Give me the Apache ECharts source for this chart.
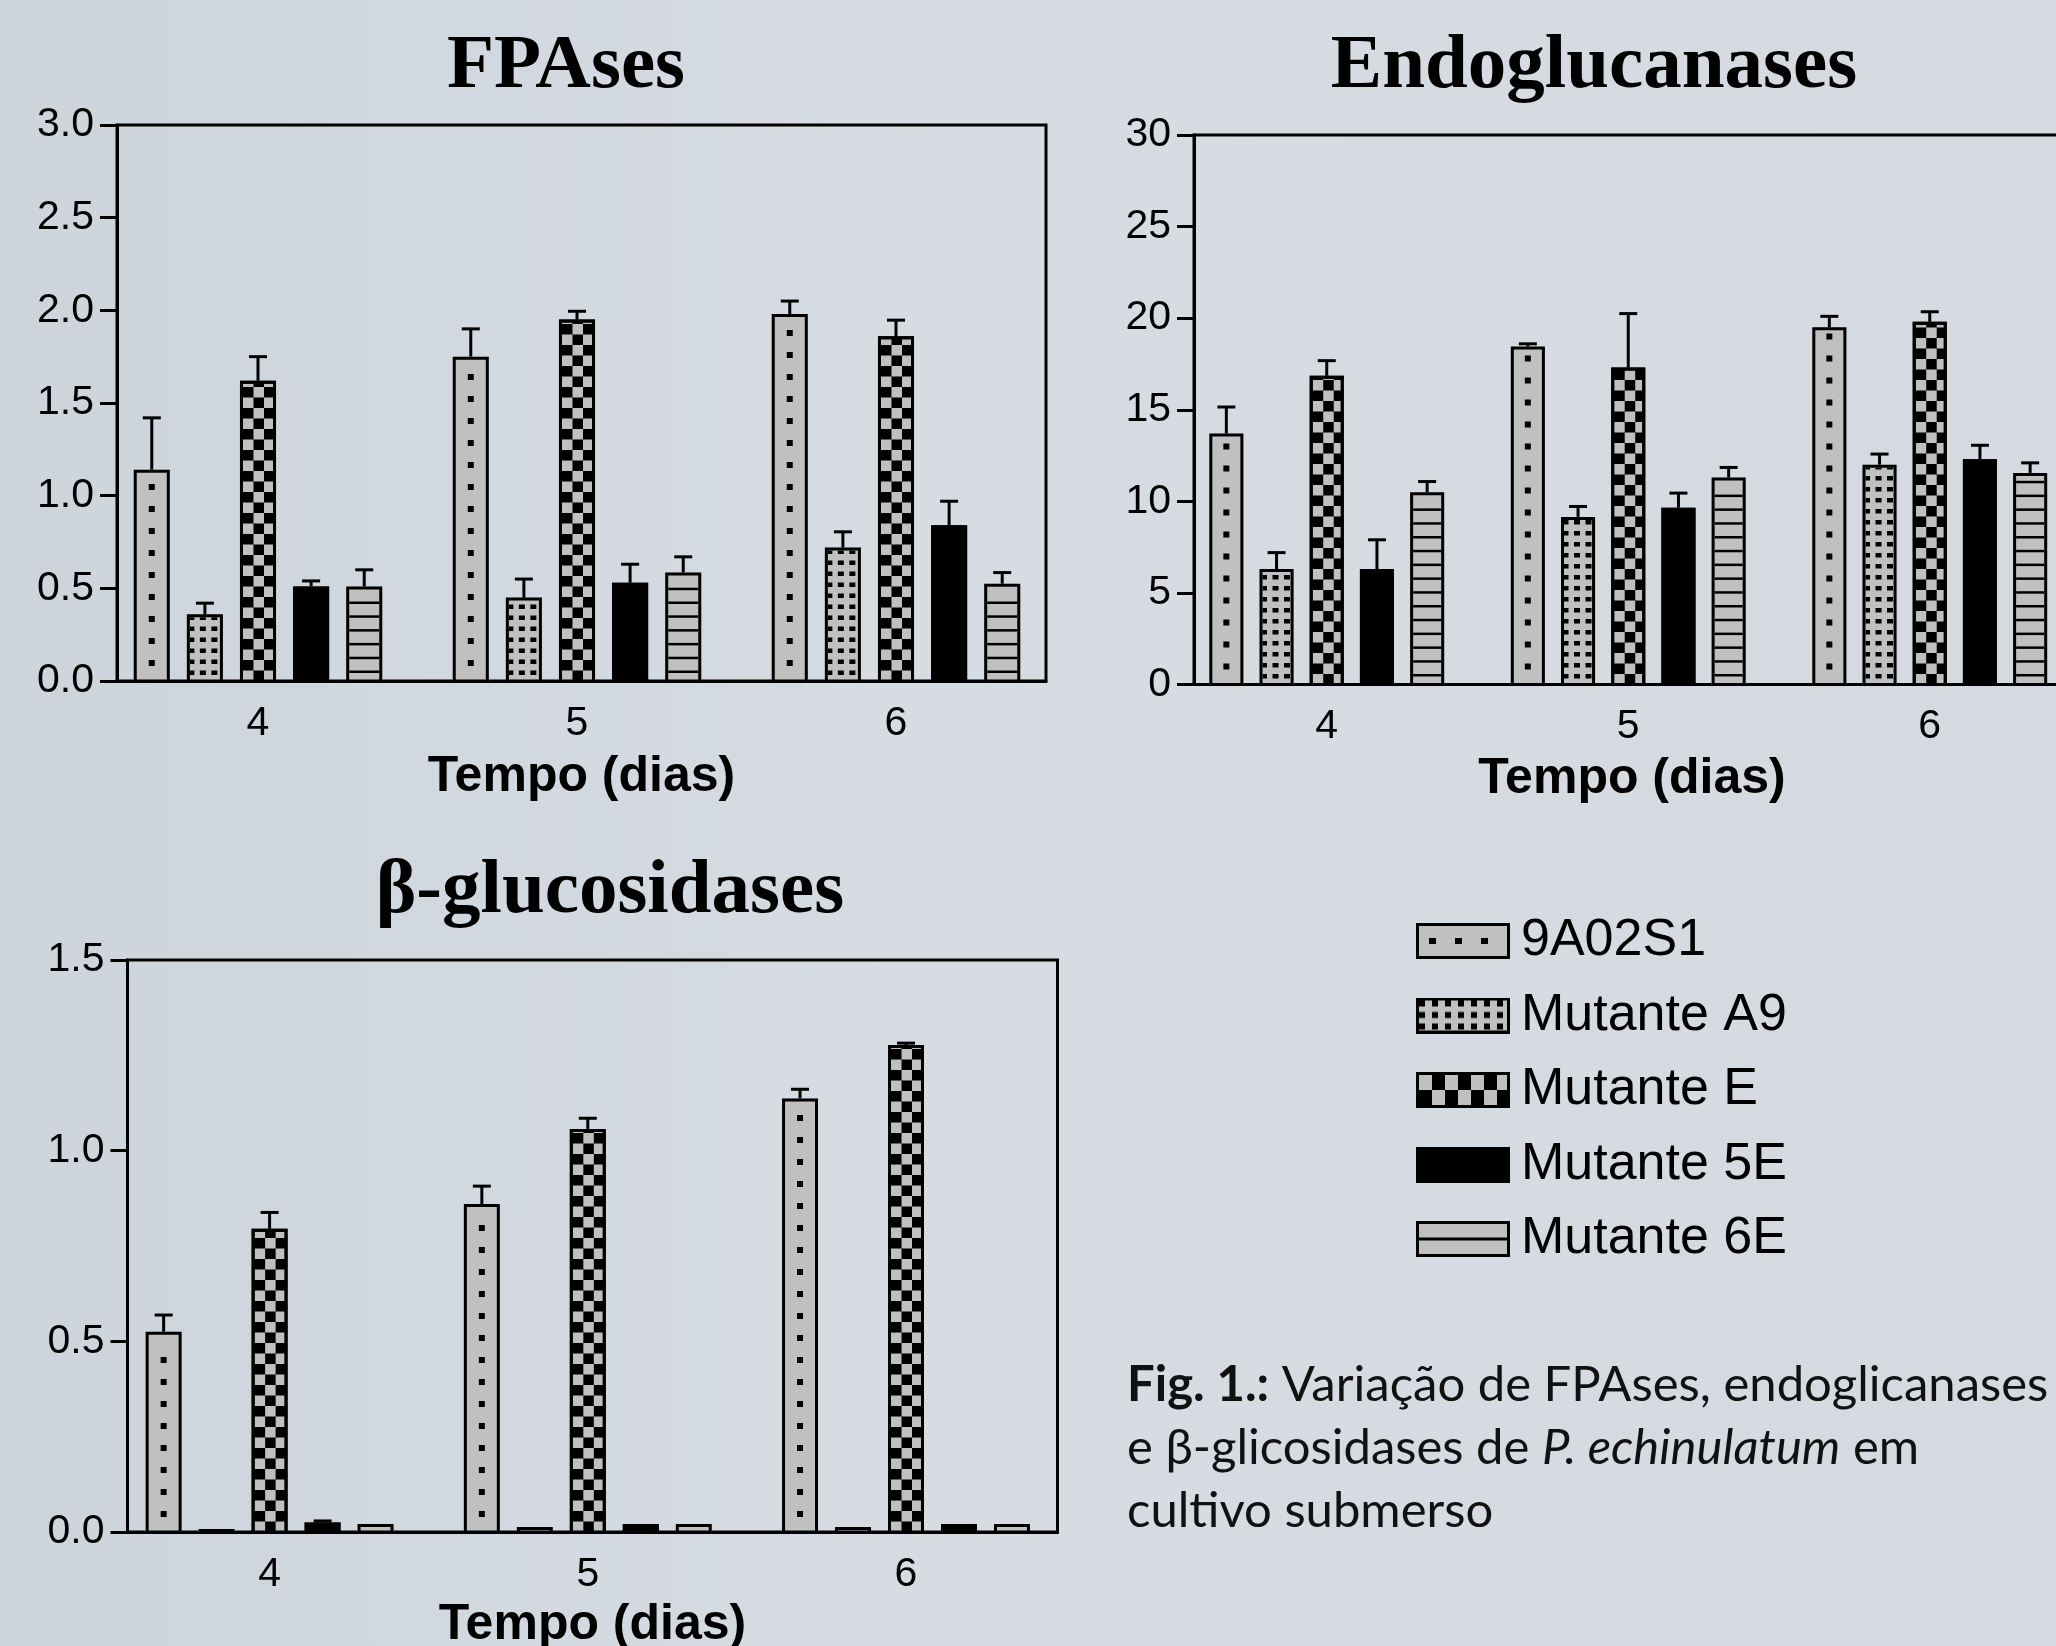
<!DOCTYPE html>
<html>
<head>
<meta charset="utf-8">
<script src="https://cdn.jsdelivr.net/npm/echarts@6/dist/echarts.min.js"></script>
<style>
html,body{margin:0;padding:0;background:#d3d9e0;}
#c{width:2056px;height:1646px;}
</style>
</head>
<body>
<div id="c"></div>
<script>
// ---------------- data ----------------
const days = ['4', '5', '6'];
const strains = ['9A02S1', 'Mutante A9', 'Mutante E', 'Mutante 5E', 'Mutante 6E'];

// [strain][day]
const fpaMean = [
  [1.14, 1.75, 1.98],
  [0.36, 0.45, 0.72],
  [1.62, 1.95, 1.86],
  [0.51, 0.53, 0.84],
  [0.51, 0.585, 0.525]
];
const fpaSD = [
  [0.28, 0.15, 0.07],
  [0.06, 0.10, 0.085],
  [0.13, 0.045, 0.087],
  [0.03, 0.10, 0.13],
  [0.09, 0.085, 0.06]
];
const endoMean = [
  [13.7, 18.45, 19.5],
  [6.3, 9.15, 12.0],
  [16.85, 17.3, 19.8],
  [6.3, 9.65, 12.3],
  [10.5, 11.3, 11.55]
];
const endoSD = [
  [1.45, 0.15, 0.6],
  [0.9, 0.57, 0.58],
  [0.83, 2.95, 0.55],
  [1.6, 0.8, 0.76],
  [0.58, 0.55, 0.55]
];
const betaMean = [
  [0.525, 0.86, 1.137],
  [0.008, 0.013, 0.013],
  [0.795, 1.057, 1.277],
  [0.025, 0.021, 0.021],
  [0.021, 0.021, 0.021]
];
const betaSD = [
  [0.044, 0.047, 0.024],
  [0, 0, 0],
  [0.043, 0.028, 0.005],
  [0.004, 0, 0],
  [0, 0, 0]
];
const fpaTicks = ['0.0', '0.5', '1.0', '1.5', '2.0', '2.5', '3.0'];
const endoTicks = ['0', '5', '10', '15', '20', '25', '30'];
const betaTicks = ['0.0', '0.5', '1.0', '1.5'];
const xName = 'Tempo (dias)';
const captionText = '{b|Fig. 1.:} Variação de FPAses, endoglicanases\ne β-glicosidases de {i|P. echinulatum} em\ncultivo submerso';

// ---------------- layout ----------------
const panels = [
  { title: 'FPAses', tx: 566, ty: 67,
    frame: { left: 117, top: 125, width: 929, height: 556 },
    bars: { left: 98.5, width: 957 },
    max: 3, interval: 0.5, ticks: fpaTicks, mean: fpaMean, sd: fpaSD, nameGap: 71 },
  { title: 'Endoglucanases', tx: 1594, ty: 67,
    frame: { left: 1194, top: 135, width: 876, height: 549.5 },
    bars: { left: 1176, width: 904.5 },
    max: 30, interval: 5, ticks: endoTicks, mean: endoMean, sd: endoSD, nameGap: 70 },
  { title: 'β-glucosidases', tx: 610, ty: 892,
    frame: { left: 127.5, top: 960, width: 930, height: 572 },
    bars: { left: 110.5, width: 954.6 },
    max: 1.5, interval: 0.5, ticks: betaTicks, mean: betaMean, sd: betaSD, nameGap: 68 }
];

const GRAY = '#c0c0c0';
const BLACK = '#000';
const STEP_RATIO = 0.1665;
const WIDTH_RATIO = 0.113;
const SANS = '"Liberation Sans", Arial, sans-serif';

function clipRect(arr, x, y, w, h, fill, bx0, by0, bx1, by1) {
  const xa = Math.max(x, bx0), ya = Math.max(y, by0);
  const xb = Math.min(x + w, bx1), yb = Math.min(y + h, by1);
  if (xb > xa && yb > ya) {
    arr.push({ type: 'rect', shape: { x: xa, y: ya, width: xb - xa, height: yb - ya }, style: { fill: fill } });
  }
}

function makeRender(s) {
  return function (params, api) {
    const cat = api.value(0), val = api.value(1), sd = api.value(2);
    const top = api.coord([cat, val]);
    const base = api.coord([cat, 0]);
    const band = api.size([1, 0])[0];
    const step = band * STEP_RATIO;
    const w = band * WIDTH_RATIO;
    const cx = top[0] + (s - 2) * step;
    const x0 = cx - w / 2, x1 = cx + w / 2;
    const y0 = top[1], y1 = base[1];
    const ix0 = x0 + 3, ix1 = x1 - 3, iy0 = y0 + 3, iy1 = y1;
    const ch = [];
    ch.push({ type: 'rect', shape: { x: x0, y: y0, width: w, height: y1 - y0 },
      style: { fill: (s === 3 || s === 2) ? BLACK : GRAY } });
    if (s === 0) {
      for (let k = 0; k < 200; k++) {
        const yb = y1 - 15 - 22 * k, ya = yb - 6;
        if (ya < iy0 + 3) break;
        ch.push({ type: 'rect', shape: { x: cx - 3, y: ya, width: 6, height: 6 }, style: { fill: BLACK } });
      }
    } else if (s === 1) {
      for (let k = 0; k < 200; k++) {
        const yb = y1 - 6 - 11 * k, ya = yb - 4.5;
        if (yb < iy0) break;
        for (let c = 0; c < 4; c++) {
          clipRect(ch, ix0 - 1.5 + 11.5 * c, ya, 6, 4.5, BLACK, ix0, iy0, ix1, iy1);
        }
      }
    } else if (s === 2) {
      const sq = 10.5;
      for (let r = 0; r < 200; r++) {
        const ya = y1 - (r + 1) * sq;
        if (ya + sq < iy0) break;
        for (let c = 0; c < 3; c++) {
          if ((r + c) % 2 === 0) clipRect(ch, ix0 + c * sq, ya, sq, sq, GRAY, ix0, iy0, ix1, iy1);
        }
      }
    } else if (s === 4) {
      for (let k = 0; k < 200; k++) {
        const yb = y1 - 8 - 13.8 * k, ya = yb - 2.5;
        if (ya < iy0 + 2) break;
        ch.push({ type: 'rect', shape: { x: ix0, y: ya, width: ix1 - ix0, height: 2.5 }, style: { fill: BLACK } });
      }
    }
    ch.push({ type: 'rect', shape: { x: x0 + 1.5, y: y0 + 1.5, width: w - 3, height: Math.max(0.5, y1 - y0 - 1.5) },
      style: { fill: 'none', stroke: BLACK, lineWidth: 3 } });
    if (sd > 0) {
      const ye = api.coord([cat, val + sd])[1];
      ch.push({ type: 'line', shape: { x1: cx, y1: y0, x2: cx, y2: ye }, style: { stroke: BLACK, lineWidth: 3 } });
      ch.push({ type: 'line', shape: { x1: cx - 9, y1: ye, x2: cx + 9, y2: ye }, style: { stroke: BLACK, lineWidth: 3 } });
    }
    return { type: 'group', children: ch };
  };
}

function swatch(s) {
  const c = document.createElement('canvas');
  c.width = 94; c.height = 36;
  const g = c.getContext('2d');
  g.fillStyle = (s === 3 || s === 2) ? BLACK : GRAY;
  g.fillRect(0, 0, 94, 36);
  g.fillStyle = BLACK;
  if (s === 0) {
    [13, 39, 65].forEach(function (x) { g.fillRect(x, 15, 7, 6); });
  } else if (s === 1) {
    for (let k = 0; k < 7; k++) {
      [3, 14.5, 26].forEach(function (y) { g.fillRect(3 + 13 * k, y, 6, 6); });
    }
  } else if (s === 2) {
    g.fillStyle = GRAY;
    for (let i = 0; i < 7; i++) {
      for (let j = 0; j < 2; j++) {
        if ((i + j) % 2 === 0) g.fillRect(3 + i * 13, 3 + j * 15, 13, 15);
      }
    }
  } else if (s === 4) {
    g.fillRect(0, 16.5, 94, 3);
  }
  g.strokeStyle = BLACK;
  g.lineWidth = 3;
  g.strokeRect(1.5, 1.5, 91, 33);
  return c.toDataURL('image/png');
}

// ---------------- option ----------------
const grid = [], xAxis = [], yAxis = [], series = [], graphic = [];

panels.forEach(function (p, pi) {
  const gf = pi * 2, gb = pi * 2 + 1;
  grid.push({ left: p.frame.left, top: p.frame.top, width: p.frame.width, height: p.frame.height,
    outerBoundsMode: 'none', containLabel: false,
    show: true, borderColor: BLACK, borderWidth: 3, backgroundColor: 'transparent' });
  grid.push({ left: p.bars.left, top: p.frame.top, width: p.bars.width, height: p.frame.height,
    outerBoundsMode: 'none', containLabel: false });

  xAxis.push({ gridIndex: gf, type: 'value', min: 0, max: 1,
    axisLine: { show: true, onZero: false, lineStyle: { color: BLACK, width: 3 } },
    axisTick: { show: false }, axisLabel: { show: false }, splitLine: { show: false },
    name: xName, nameLocation: 'middle', nameGap: p.nameGap,
    nameTextStyle: { fontFamily: SANS, fontWeight: 'bold', fontSize: 50, color: BLACK } });
  yAxis.push({ gridIndex: gf, type: 'value', min: 0, max: p.max, interval: p.interval,
    axisLine: { show: true, lineStyle: { color: BLACK, width: 3 } },
    axisTick: { show: true, inside: false, length: 17, lineStyle: { color: BLACK, width: 3 } },
    axisLabel: { margin: 23, fontFamily: SANS, fontSize: 41, color: BLACK,
      formatter: function (v) { return p.ticks[Math.round(v / p.interval)]; } },
    splitLine: { show: false } });

  xAxis.push({ gridIndex: gb, type: 'category', data: days,
    axisLine: { show: false }, axisTick: { show: false }, splitLine: { show: false },
    axisLabel: { margin: 22, fontFamily: SANS, fontSize: 41, color: BLACK } });
  yAxis.push({ gridIndex: gb, type: 'value', min: 0, max: p.max, show: false, splitLine: { show: false } });

  strains.forEach(function (name, s) {
    series.push({
      type: 'custom', name: name, xAxisIndex: gb, yAxisIndex: gb,
      encode: { x: 0, y: 1 }, clip: false, silent: true,
      itemStyle: { color: s === 3 ? BLACK : GRAY },
      data: days.map(function (d, i) { return [i, p.mean[s][i], p.sd[s][i]]; }),
      renderItem: makeRender(s)
    });
  });

  graphic.push({ type: 'text', x: p.tx, y: p.ty, silent: true,
    style: { text: p.title, font: 'bold 77px "Liberation Serif", "Times New Roman", serif',
      fill: BLACK, align: 'center', verticalAlign: 'middle' } });
});

graphic.push({ type: 'text', x: 1127, y: 1354, silent: true,
  style: { text: captionText, fontFamily: 'Lato', fontSize: 49, lineHeight: 63, fill: '#111',
    align: 'left', verticalAlign: 'top',
    rich: {
      b: { fontFamily: 'Lato', fontSize: 49, fontWeight: 'bold', lineHeight: 63, fill: '#111' },
      i: { fontFamily: 'Lato', fontSize: 49, fontStyle: 'italic', lineHeight: 63, fill: '#111' }
    } } });

const option = {
  animation: false,
  backgroundColor: { type: 'linear', x: 0, y: 0, x2: 1, y2: 0,
    colorStops: [{ offset: 0, color: '#cdd4dc' }, { offset: 0.45, color: '#d7dce3' }, { offset: 1, color: '#d5dae1' }] },
  grid: grid, xAxis: xAxis, yAxis: yAxis, series: series, graphic: graphic,
  legend: {
    orient: 'vertical', left: 1416, top: 915, padding: 0,
    itemWidth: 94, itemHeight: 36, itemGap: 22.5, selectedMode: false,
    data: strains.map(function (n, i) { return { name: n, icon: 'image://' + swatch(i) }; }),
    textStyle: { fontFamily: SANS, fontSize: 52, color: BLACK, padding: [0, 0, 0, 6] }
  }
};

const chart = echarts.init(document.getElementById('c'), null, { renderer: 'canvas' });
chart.setOption(option);
</script>
</body>
</html>
